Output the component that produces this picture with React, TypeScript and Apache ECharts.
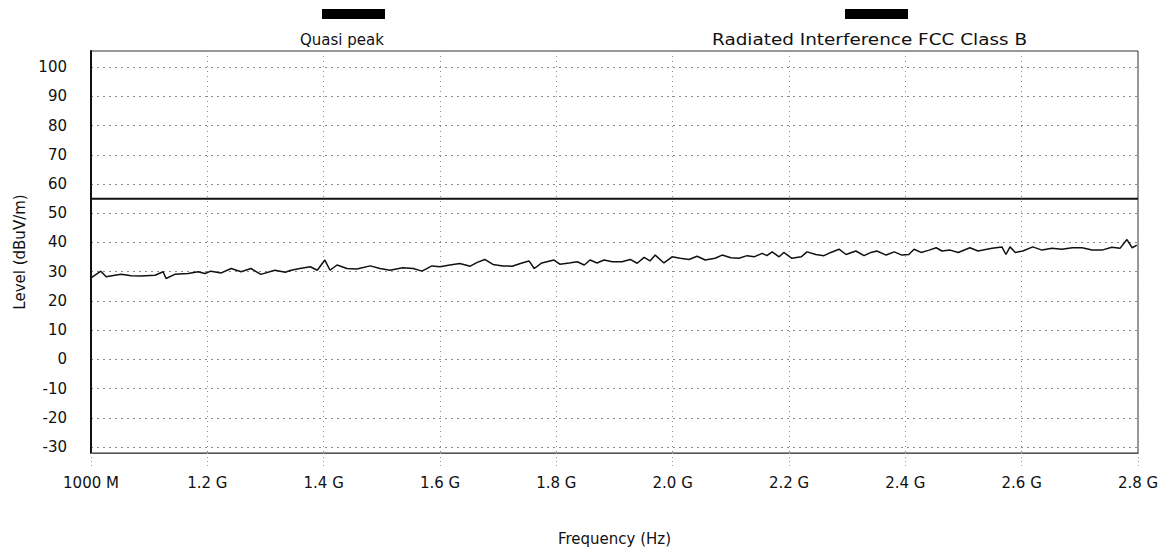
import React, { useEffect, useRef } from "react";
import * as echarts from "echarts";

const freqMHz = [
  1000, 1017, 1026, 1041, 1052, 1069, 1086, 1110, 1124, 1129, 1144, 1167, 1184, 1196, 1206, 1224, 1241, 1258, 1275, 1292, 1316, 1334, 1344,
  1359, 1377, 1389, 1402, 1411, 1423, 1440, 1457, 1480, 1497, 1514, 1536, 1554, 1569, 1586, 1600, 1617, 1634, 1652, 1664, 1677, 1691, 1708,
  1724, 1741, 1753, 1762, 1775, 1796, 1806, 1822, 1836, 1848, 1858, 1870, 1882, 1896, 1913, 1927, 1939, 1951, 1961, 1970, 1985, 1999, 2013, 2028, 2042, 2056, 2073, 2085,
  2100, 2114, 2128, 2140, 2154, 2162, 2171, 2183, 2191, 2205, 2221, 2231, 2246, 2260, 2272, 2286, 2298, 2315, 2329, 2341, 2351, 2367, 2381, 2394, 2406, 2415, 2427, 2441, 2453,
  2463, 2477, 2491, 2511, 2525, 2549, 2566, 2573, 2580, 2589, 2602, 2619, 2635, 2652, 2669, 2687, 2704, 2721, 2738, 2755, 2769, 2781, 2790, 2798,
];
const quasiPeak = [
  27.9, 30.2, 28.3, 28.8, 29.1, 28.6, 28.5, 28.8, 30.0, 27.7, 29.1, 29.4, 30.0, 29.4, 30.2, 29.6, 31.1, 30.0, 31.1, 29.1, 30.5, 29.8, 30.5,
  31.1, 31.7, 30.5, 34.0, 30.5, 32.3, 31.1, 30.9, 32.0, 31.1, 30.5, 31.4, 31.1, 30.2, 32.0, 31.7, 32.3, 32.8, 31.9, 33.2, 34.2, 32.5, 32.0,
  31.9, 33.0, 33.7, 31.1, 33.0, 34.0, 32.6, 33.0, 33.4, 32.3, 34.0, 33.0, 34.0, 33.4, 33.4, 34.2, 32.9, 34.9, 33.7, 35.7, 33.0, 35.1, 34.6, 34.2, 35.3, 34.0, 34.6, 35.7,
  34.8, 34.6, 35.5, 35.1, 36.3, 35.5, 36.8, 35.1, 36.6, 34.6, 35.1, 36.8, 35.9, 35.5, 36.6, 37.7, 35.9, 37.1, 35.5, 36.6, 37.1, 35.7, 36.8, 35.7, 35.9, 37.7, 36.6, 37.4, 38.2,
  37.1, 37.4, 36.6, 38.2, 37.1, 38.0, 38.5, 35.9, 38.5, 36.6, 37.1, 38.5, 37.4, 38.0, 37.7, 38.2, 38.2, 37.4, 37.4, 38.4, 38.0, 41.0, 38.2, 39.1,
];
const limitFreq = [1000, 2800];
const limitLevel = [55, 55];
const yTicks = [100, 90, 80, 70, 60, 50, 40, 30, 20, 10, 0, -10, -20, -30];
const seriesNames = ["Quasi peak", "Radiated Interference FCC Class B"];

const FONT = "DejaVu Sans";

export default function App() {
  const ref = useRef<HTMLDivElement>(null);
  useEffect(() => {
    if (!ref.current) return;
    const chart = echarts.init(ref.current, null, { renderer: "svg" });
    const grid = "#8a8a8a";
    chart.setOption({
      animation: false,
      backgroundColor: "#ffffff",
      textStyle: { fontFamily: FONT },
      grid: {
        left: 91,
        right: 35,
        top: 51,
        bottom: 99,
        show: true,
        borderColor: "#333",
        borderWidth: 1,
      },
      graphic: [
        { type: "rect", left: 322, top: 9, shape: { width: 63, height: 10 }, style: { fill: "#000" } },
        { type: "text", left: 300, top: 32, style: { text: seriesNames[0], font: `15px "${FONT}"`, fill: "#111" } },
        { type: "rect", left: 845, top: 9, shape: { width: 63, height: 10 }, style: { fill: "#000" } },
        { type: "text", x: 712, y: 31, scaleX: 1.15, style: { text: seriesNames[1], font: `16px "${FONT}"`, fill: "#111" } },
      ],
      xAxis: {
        type: "value",
        min: 1000,
        max: 2800,
        interval: 200,
        name: "Frequency (Hz)",
        nameLocation: "middle",
        nameGap: 78,
        nameTextStyle: { fontFamily: FONT, fontSize: 15, color: "#111" },
        axisLine: { show: true, onZero: false, lineStyle: { color: "#555", width: 1 } },
        axisTick: { show: true, length: 14, lineStyle: { color: "#999", type: [1, 3] } },
        axisLabel: {
          margin: 22,
          fontFamily: FONT,
          fontSize: 15,
          color: "#111",
          formatter: (v: number) => (v === 1000 ? "1000 M" : (v / 1000).toFixed(1) + " G"),
        },
        splitLine: { show: true, lineStyle: { color: grid, type: [1, 4], width: 1 } },
      },
      yAxis: {
        type: "value",
        min: -32,
        max: 105.5,
        name: "Level (dBuV/m)",
        nameLocation: "middle",
        nameGap: 64,
        nameTextStyle: { fontFamily: FONT, fontSize: 15, color: "#111" },
        axisLine: { show: true, onZero: false, lineStyle: { color: "#111", width: 2 } },
        axisTick: { show: false, customValues: yTicks },
        axisLabel: { customValues: yTicks, margin: 24, fontFamily: FONT, fontSize: 15, color: "#111" },
        splitLine: { show: true, lineStyle: { color: grid, type: [2, 4], width: 1 } },
      },
      series: [
        {
          name: seriesNames[0],
          type: "line",
          data: freqMHz.map((f, i) => [f, quasiPeak[i]]),
          showSymbol: false,
          lineStyle: { color: "#111", width: 1.5 },
          z: 3,
        },
        {
          name: seriesNames[1],
          type: "line",
          data: limitFreq.map((f, i) => [f, limitLevel[i]]),
          showSymbol: false,
          lineStyle: { color: "#111", width: 2 },
          z: 4,
        },
      ],
    });
    return () => chart.dispose();
  }, []);
  return <div ref={ref} style={{ position: "fixed", left: 0, top: 0, width: 1173, height: 552 }} />;
}
